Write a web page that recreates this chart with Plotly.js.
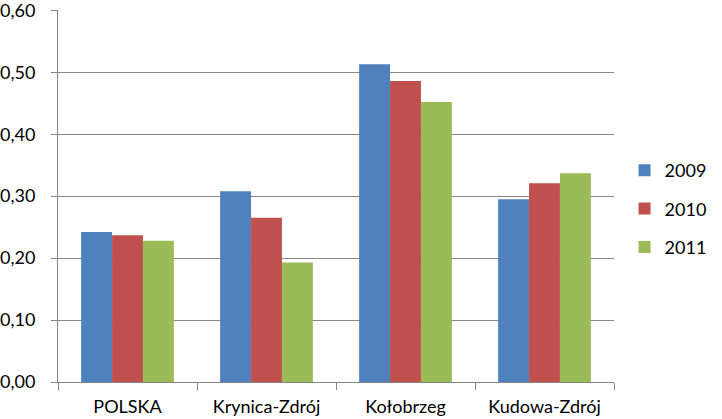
<!DOCTYPE html>
<html>
<head>
<meta charset="utf-8">
<script src="https://cdn.plot.ly/plotly-3.0.1.min.js"></script>
<style>
  body { margin: 0; background: #fff; }
  #chart { width: 722px; height: 419px; }
</style>
</head>
<body>
<div id="chart"></div>
<script>
// categories and yearly values
let towns = ['POLSKA', 'Krynica-Zdrój', 'Kołobrzeg', 'Kudowa-Zdrój'];
let years = ['2009', '2010', '2011'];
let values2009 = [0.242, 0.308, 0.513, 0.295];
let values2010 = [0.237, 0.265, 0.486, 0.321];
let values2011 = [0.228, 0.193, 0.452, 0.337];
let yTicks = [0, 0.1, 0.2, 0.3, 0.4, 0.5, 0.6];

let colors = ['#4F81BD', '#C0504D', '#9BBB59'];
let series = [values2009, values2010, values2011];

let data = [];
for (let i = 0; i < years.length; i++) {
  data.push({
    x: towns,
    y: series[i],
    type: 'bar',
    name: years[i],
    legendgroup: years[i],
    marker: { color: colors[i], line: { width: 0 } }
  });
}

let layout = {
  width: 722,
  height: 419,
  margin: { l: 58, r: 96, t: 10, b: 37 },
  paper_bgcolor: '#fff',
  plot_bgcolor: '#fff',
  font: { family: 'Lato, "Open Sans", sans-serif', size: 18, color: '#000' },
  separators: ',.',
  barmode: 'group',
  bargap: 0.333,
  bargroupgap: 0,
  showlegend: true,
  legend: {
    x: 1.019, xanchor: 'left', xref: 'paper',
    y: 0.465, yanchor: 'middle',
    tracegroupgap: 12,
    font: { size: 18 },
    bgcolor: 'rgba(0,0,0,0)'
  },
  xaxis: {
    type: 'category',
    showline: true, linecolor: '#868686', linewidth: 1,
    ticks: 'outside', tickson: 'boundaries', ticklen: 7, tickcolor: '#868686',
    showgrid: false, zeroline: false,
    ticklabelstandoff: 8
  },
  yaxis: {
    range: [0, 0.6005],
    tickvals: yTicks,
    tickformat: '.2f',
    showline: true, linecolor: '#868686', linewidth: 1,
    ticks: 'outside', ticklen: 6, tickcolor: '#868686',
    showgrid: true, gridcolor: '#868686', gridwidth: 1,
    zeroline: false,
    ticklabelstandoff: 12,
    ticklabeloverflow: 'allow'
  }
};

Plotly.newPlot('chart', data, layout, { displayModeBar: false, staticPlot: true });
</script>
</body>
</html>
